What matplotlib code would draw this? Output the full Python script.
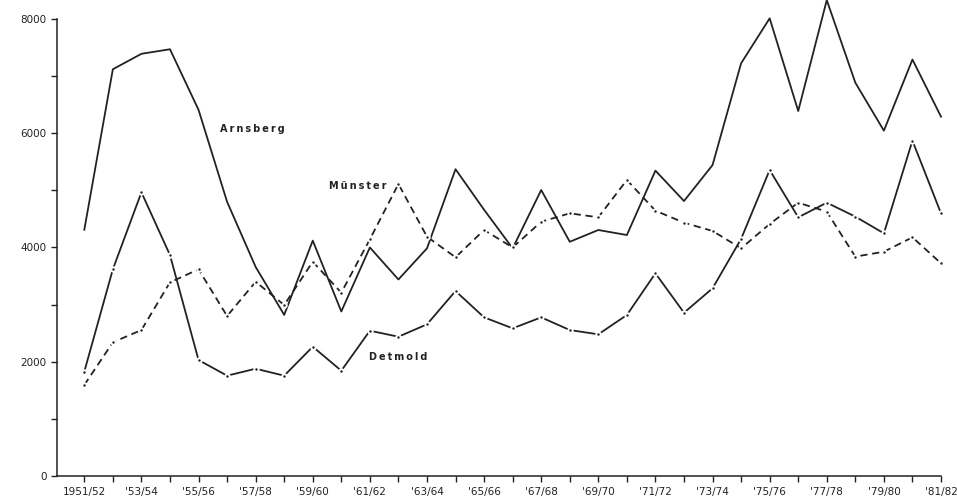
import matplotlib
matplotlib.use("Agg")
import matplotlib.pyplot as plt
from matplotlib.ticker import MultipleLocator

# school years 1951/52 .. 1981/82
years = [f"{y}/{str(y + 1)[-2:]}" for y in range(1951, 1982)]
tick_labels = ["1951/52"] + [f"'{str(y)[-2:]}/{str(y + 1)[-2:]}" for y in range(1953, 1982, 2)]

arnsberg = [4310, 7120, 7390, 7470, 6410, 4800, 3660, 2820, 4120, 2880,
            4000, 3440, 3985, 5370, 4660, 3985, 5006, 4100, 4306, 4218,
            5345, 4813, 5443, 7224, 8011, 6389, 8330, 6885, 6045, 7290, 6290]
muenster = [1593, 2340, 2555, 3390, 3618, 2800, 3400, 2993, 3751, 3209,
            4143, 5111, 4189, 3828, 4306, 4000, 4451, 4598, 4528, 5181,
            4644, 4434, 4289, 3985, 4411, 4784, 4627, 3840, 3926, 4178, 3723]
detmold = [1826, 3618, 4966, 3868, 2030, 1756, 1878, 1756, 2263, 1843,
           2543, 2438, 2655, 3238, 2777, 2585, 2777, 2555, 2480, 2818,
           3548, 2858, 3285, 4150, 5356, 4528, 4784, 4540, 4248, 5870, 4598]

x = list(range(len(years)))
ink = "#222222"


def spaced(word):
    # letter-spaced label, as in the printed figure
    return "\u2009".join(word)


fig = plt.figure(figsize=(9.57, 4.99), dpi=100)
ax = fig.add_axes([57 / 957, 23 / 499, (941 - 57) / 957, 476 / 499])

dot = dict(marker="o", markersize=3.2, markerfacecolor=ink,
           markeredgecolor="white", markeredgewidth=1.4)

ax.plot(x, arnsberg, color=ink, lw=1.3, clip_on=False)
ax.plot(x, muenster, color=ink, lw=1.3, dashes=(4, 2.6), clip_on=False, **dot)
ax.plot(x, detmold, color=ink, lw=1.3, clip_on=False, **dot)

lab = dict(fontsize=7, fontweight="bold", color=ink, va="center", ha="left")
ax.text(4.75, 6070, spaced("Arnsberg"), **lab)
ax.text(8.57, 5080, spaced("Münster"), **lab)
ax.text(9.97, 2083, spaced("Detmold"), **lab)

ax.set_xlim(-0.956, 30)
ax.set_ylim(0, 8332)
ax.spines["top"].set_visible(False)
ax.spines["right"].set_visible(False)
ax.spines["left"].set_bounds(0, 8000)
ax.spines["bottom"].set_bounds(-0.956, 30)
for s in ("left", "bottom"):
    ax.spines[s].set_color(ink)
    ax.spines[s].set_linewidth(1.1)

ax.set_xticks(x, minor=True)
ax.set_xticks(x[::2])
ax.set_xticklabels(tick_labels)
ax.yaxis.set_minor_locator(MultipleLocator(1000))
ax.set_yticks([0, 2000, 4000, 6000, 8000])
ax.set_yticklabels(["0", "2000", "4000", "6000", "8000"])
ax.tick_params(which="both", direction="out", color=ink, width=1, labelcolor=ink, labelsize=7.5)
ax.tick_params(axis="y", which="both", length=4, pad=3.5)
ax.tick_params(axis="x", which="both", length=4, pad=4)

fig.savefig("out.png", dpi=100)
